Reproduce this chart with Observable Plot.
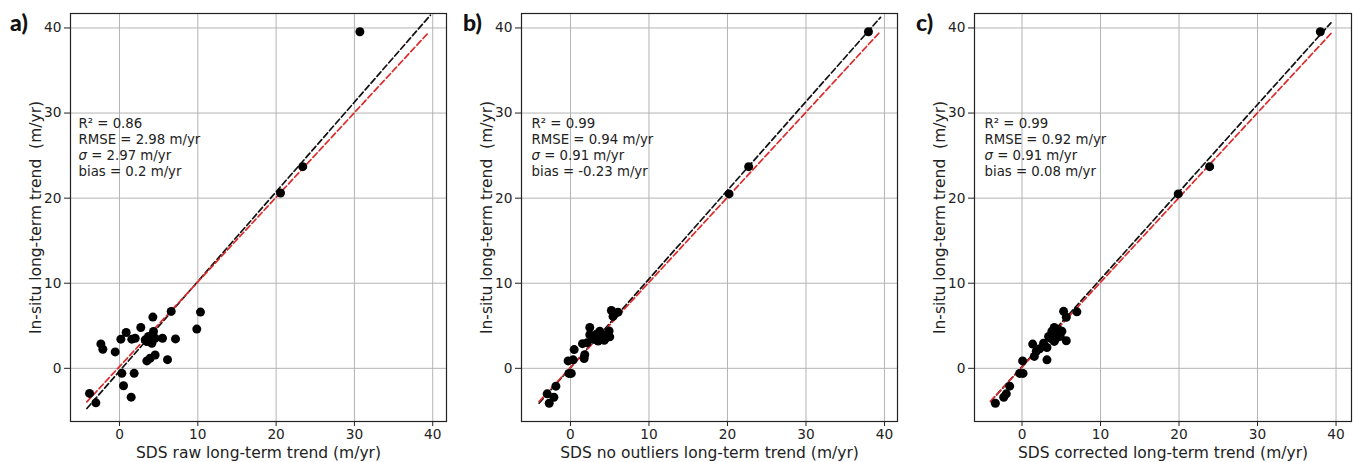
<!DOCTYPE html>
<html><head><meta charset="utf-8">
<script src="https://cdn.jsdelivr.net/npm/d3@7"></script>
<script src="https://cdn.jsdelivr.net/npm/@observablehq/plot@0.6"></script>
<style>
body{margin:0;background:#fff;}
#wrap{position:relative;width:1353px;height:462px;overflow:hidden;background:#fff;}
.panel{position:absolute;top:0;}
.lab{position:absolute;font-family:Lato,"Open Sans",sans-serif;font-weight:900;font-size:23px;line-height:1;color:#111;}
</style></head><body><div id="wrap"></div>
<script>
// ---- data ----
const tickVals = [0, 10, 20, 30, 40];
const yDomain = [-6.25, 41.7];

const xA = [-3.83,-3.02,-2.38,-2.13,-0.55,0.30,0.51,1.49,1.87,0.17,0.85,1.57,2.0,2.72,3.28,3.49,3.70,4.13,4.34,4.26,4.55,3.49,3.91,4.55,5.49,6.13,6.60,7.15,9.87,10.34,20.56,23.4,30.7];
const yA = [-2.95,-4.06,2.87,2.24,1.93,-0.59,-2.05,-3.39,-0.59,3.43,4.21,3.43,3.54,4.80,3.35,3.15,3.74,2.95,4.33,6.02,3.54,0.87,1.18,1.57,3.54,1.02,6.69,3.46,4.61,6.61,20.6,23.7,39.56];

const xB = [-2.97,-2.71,-2.12,-1.86,-0.2,0.1,-0.3,0.34,0.47,1.74,1.82,1.53,2.12,2.46,2.46,3.09,3.31,3.52,3.73,4.07,4.36,4.58,4.92,5.0,4.3,3.0,5.21,5.64,6.06,5.42,20.2,22.7,37.96];
const yB = [-3.0,-4.1,-3.4,-2.1,-0.6,-0.6,0.87,1.0,2.2,1.15,1.6,2.9,3.0,4.8,3.95,3.5,4.0,3.2,4.35,3.75,3.4,3.9,4.4,3.7,3.3,3.4,6.8,6.4,6.6,6.1,20.5,23.7,39.56];

const xC = [-3.39,-2.33,-2.0,-1.57,-0.3,0.13,0.08,1.36,1.57,1.82,2.25,2.75,3.18,3.39,3.81,4.11,4.24,4.45,4.66,4.87,5.08,4.11,3.69,5.3,5.64,5.64,6.99,3.18,19.9,23.9,38.0];
const yC = [-4.1,-3.4,-3.0,-2.1,-0.6,-0.6,0.87,2.85,1.4,2.0,2.3,2.96,1.0,3.75,4.35,4.8,3.4,4.0,4.55,3.75,4.35,3.16,3.5,6.7,6.0,3.24,6.64,2.45,20.5,23.7,39.56];

// fitted (black) and reference (red) dashed lines: [x, y] end points
const fitA = [[-4.17,-4.72],[39.7,41.5]];
const fitB = [[-4.0,-4.1],[39.5,41.25]];
const fitC = [[-4.0,-3.9],[39.35,40.6]];
const refA = [[-4.17,-3.94],[39.4,39.4]];
const refB = [[-4.0,-3.9],[39.3,39.4]];
const refC = [[-4.0,-3.85],[39.4,39.4]];

const xLabels = ["SDS raw long-term trend (m/yr)", "SDS no outliers long-term trend (m/yr)", "SDS corrected long-term trend (m/yr)"];
const yLabel = "In-situ long-term trend  (m/yr)";
const panelLabels = ["a)", "b)", "c)"];
const stats = [
  ["R² = 0.86", "RMSE = 2.98 m/yr", "σ = 2.97 m/yr", "bias = 0.2 m/yr"],
  ["R² = 0.99", "RMSE = 0.94 m/yr", "σ = 0.91 m/yr", "bias = -0.23 m/yr"],
  ["R² = 0.99", "RMSE = 0.92 m/yr", "σ = 0.91 m/yr", "bias = 0.08 m/yr"]
];

// ---- layout ----
const panels = [
  {x: xA, y: yA, fit: fitA, ref: refA, left: 0,   ml: 70, mr: 5,  xDomain: [-6.26, 41.76], sdx: 8,  lab: [10, 11]},
  {x: xB, y: yB, fit: fitB, ref: refB, left: 451, ml: 70, mr: 5,  xDomain: [-6.24, 41.66], sdx: 10, lab: [463, 11]},
  {x: xC, y: yC, fit: fitC, ref: refC, left: 902, ml: 72, mr: 2,  xDomain: [-6.05, 41.97], sdx: 10, lab: [916, 11]}
];

const wrap = document.getElementById("wrap");
panels.forEach((cfg, k) => {
  const pts = cfg.x.map((x, i) => ({x, y: cfg.y[i]}));
  const plot = Plot.plot({
    width: 451, height: 462,
    marginLeft: cfg.ml, marginRight: cfg.mr, marginTop: 13, marginBottom: 41,
    style: {fontFamily: "'DejaVu Sans', sans-serif", fontSize: "13.7px", color: "#222", background: "white", overflow: "visible"},
    x: {domain: cfg.xDomain},
    y: {domain: yDomain},
    marks: [
      Plot.gridX(tickVals, {stroke: "#b4b4b4", strokeOpacity: 1, strokeWidth: 1}),
      Plot.gridY(tickVals, {stroke: "#b4b4b4", strokeOpacity: 1, strokeWidth: 1}),
      Plot.line(cfg.fit, {x: d => d[0], y: d => d[1], stroke: "#111", strokeWidth: 1.7, strokeDasharray: "6,3"}),
      Plot.line(cfg.ref, {x: d => d[0], y: d => d[1], stroke: "#dd2a2a", strokeWidth: 1.7, strokeDasharray: "6,3"}),
      Plot.dot(pts, {x: "x", y: "y", r: 4.5, fill: "#000", stroke: null}),
      Plot.frame({stroke: "#222", strokeWidth: 1.2}),
      Plot.axisX(tickVals, {tickSize: 5, tickPadding: 3, label: null, fontSize: 13.7}),
      Plot.axisY(tickVals, {tickSize: 6, tickPadding: 3, label: null, fontSize: 13.7}),
      Plot.text([xLabels[k]], {frameAnchor: "bottom", dy: 32, text: d => d, fontSize: 15.5, lineAnchor: "middle", textAnchor: "middle", fill: "#222"}),
      Plot.text([yLabel], {frameAnchor: "left", dx: -34, rotate: -90, text: d => d, fontSize: 15.5, lineAnchor: "middle", textAnchor: "middle", fill: "#222"}),
      Plot.text([stats[k].join("\n")], {frameAnchor: "top-left", dx: cfg.sdx, dy: 103, text: d => d, textAnchor: "start", lineAnchor: "top", lineHeight: 1.2, fontSize: 13.3, fill: "#222"})
    ]
  });
  plot.classList.add("panel");
  plot.style.left = cfg.left + "px";
  wrap.appendChild(plot);
  // italic sigma as in the original mathtext
  d3.select(plot).selectAll("tspan").each(function() {
    const t = this.textContent;
    if (t.startsWith("σ")) {
      const el = d3.select(this);
      el.text("");
      el.append("tspan").attr("font-style", "italic").text("σ");
      el.append("tspan").text(t.slice(1));
    }
  });
  const lab = document.createElement("div");
  lab.className = "lab";
  lab.textContent = panelLabels[k];
  lab.style.left = cfg.lab[0] + "px";
  lab.style.top = cfg.lab[1] + "px";
  wrap.appendChild(lab);
});
</script>
</body></html>
